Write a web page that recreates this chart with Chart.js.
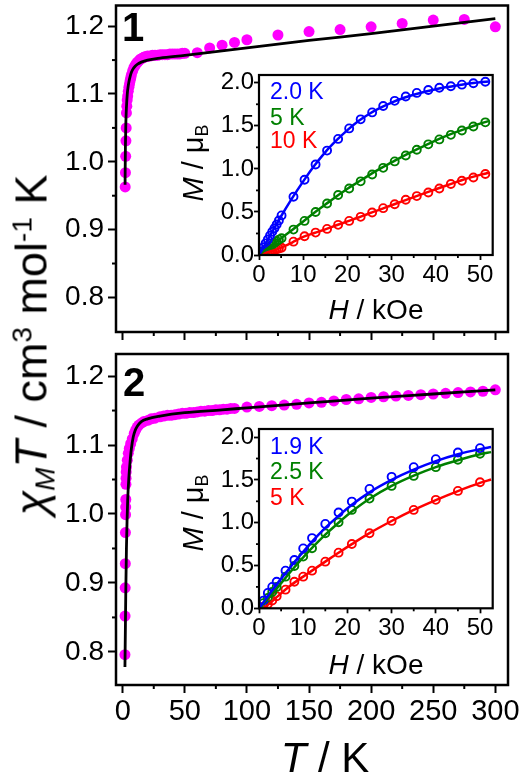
<!DOCTYPE html>
<html>
<head>
<meta charset="utf-8">
<script src="https://cdn.jsdelivr.net/npm/chart.js@4.4.1/dist/chart.umd.min.js"></script>
<style>
  html, body { margin: 0; padding: 0; background: #fff; }
  #fig { position: relative; width: 519px; height: 775px; overflow: hidden; font-family: "Liberation Sans", Arial, sans-serif; }
  #fig canvas { position: absolute; }
  .lbl { position: absolute; white-space: nowrap; line-height: 1; color: #000; }
  .c { transform: translate(-50%, -50%); }
  .l { transform: translateY(-50%); }
  .rot { transform: translate(-50%, -50%) rotate(-90deg); }
  .lbl sub, .lbl sup { font-size: 0.62em; position: relative; vertical-align: baseline; }
  .lbl sub { top: 0.3em; }
  .lbl sup { top: -0.55em; }
</style>
</head>
<body>
<div id="fig">
  <canvas id="main1" width="519" height="345" style="left:0;top:0"></canvas>
  <canvas id="main2" width="519" height="430" style="left:0;top:345px"></canvas>
  <canvas id="ins1" width="345" height="225" style="left:160px;top:65px"></canvas>
  <canvas id="ins2" width="345" height="225" style="left:160px;top:419px"></canvas>

  <div class="lbl" style="left:122px;top:7px;font-size:40px;font-weight:bold">1</div>
  <div class="lbl" style="left:123px;top:362px;font-size:40px;font-weight:bold">2</div>

  <div class="lbl rot" style="left:31px;top:345px;font-size:45px"><i>χ</i><sub><i>M</i></sub><i>T</i> / cm<sup>3</sup> mol<sup>-1</sup> K</div>
  <div class="lbl c" style="left:325px;top:758px;font-size:42px"><i>T</i> / K</div>

  <div class="lbl rot" style="left:193px;top:163px;font-size:29px"><i>M</i> / μ<sub>B</sub></div>
  <div class="lbl c" style="left:376px;top:310px;font-size:28px"><i>H</i> / kOe</div>
  <div class="lbl l" style="left:270px;top:91px;font-size:23px;color:#0000ff">2.0 K</div>
  <div class="lbl l" style="left:270px;top:117px;font-size:23px;color:#008000">5 K</div>
  <div class="lbl l" style="left:270px;top:140px;font-size:23px;color:#ff0000">10 K</div>

  <div class="lbl rot" style="left:193px;top:513px;font-size:29px"><i>M</i> / μ<sub>B</sub></div>
  <div class="lbl c" style="left:376px;top:665px;font-size:28px"><i>H</i> / kOe</div>
  <div class="lbl l" style="left:270px;top:446px;font-size:23px;color:#0000ff">1.9 K</div>
  <div class="lbl l" style="left:270px;top:471px;font-size:23px;color:#008000">2.5 K</div>
  <div class="lbl l" style="left:270px;top:497px;font-size:23px;color:#ff0000">5 K</div>
</div>

<script>
// ---- panel 1: chiM*T vs T (compound 1) ----
const T1 = [2.0, 2.2, 2.4, 2.6, 2.8, 3.0, 3.3, 3.6, 4.0, 4.5, 5, 5.5, 6, 6.5, 7, 8, 9, 10, 11, 12, 13, 14, 15, 16, 17, 18, 19, 20,
  22, 24, 26, 28, 30, 32, 34, 36, 38, 40, 42, 44, 46, 48, 50, 60, 70, 80, 90, 100, 125, 150, 175, 200, 225, 250, 275, 300];
const chiT1 = [0.963, 0.984, 1.008, 1.031, 1.050, 1.072, 1.082, 1.091, 1.097, 1.104, 1.110, 1.115, 1.120, 1.124, 1.128, 1.134, 1.139, 1.142,
  1.145, 1.147, 1.149, 1.151, 1.152, 1.153, 1.154, 1.155, 1.155, 1.156, 1.156, 1.157, 1.157, 1.157, 1.158, 1.158, 1.158, 1.158, 1.159,
  1.159, 1.159, 1.159, 1.159, 1.160, 1.160, 1.161, 1.168, 1.172, 1.176, 1.180, 1.187, 1.192, 1.195, 1.199, 1.204, 1.209, 1.210, 1.199];
const T1fit = [1.9, 2.0, 2.2, 2.5, 2.8, 3.2, 3.6, 4, 5, 6, 7, 8, 10, 12, 15, 20, 30, 50, 100, 150, 200, 250, 300];
const chiT1fit = [0.966, 0.99, 1.025, 1.055, 1.072, 1.087, 1.098, 1.106, 1.118, 1.126, 1.132, 1.136, 1.141, 1.144, 1.147, 1.150, 1.153,
  1.157, 1.168, 1.179, 1.189, 1.200, 1.211];

// ---- panel 2: chiM*T vs T (compound 2) ----
const T2 = [1.8, 1.9, 2.0, 2.1, 2.2, 2.3, 2.4, 2.5, 2.6, 2.7, 2.8, 3.0, 3.7, 4.5, 5.3, 6.4, 7.7, 9.3, 10.5, 11.7, 13, 15.3, 17, 20.6,
  23, 26, 30, 33, 36, 39, 42, 45, 48, 51, 54, 57, 60, 63, 66, 69, 72, 75, 78, 81, 84, 87, 90,
  100, 110, 120, 130, 140, 150, 160, 170, 180, 190, 200, 210, 220, 230, 240, 250, 260, 270, 280, 290, 300];
const chiT2 = [0.796, 0.852, 0.893, 0.928, 0.973, 0.999, 1.010, 1.021, 1.043, 1.052, 1.061, 1.068, 1.078, 1.088, 1.095, 1.102, 1.109,
  1.117, 1.122, 1.126, 1.129, 1.132, 1.134, 1.136, 1.138, 1.139, 1.141, 1.142, 1.143, 1.143, 1.144, 1.145, 1.146, 1.146, 1.147, 1.147,
  1.148, 1.149, 1.149, 1.150, 1.150, 1.151, 1.151, 1.152, 1.152, 1.153, 1.153,
  1.155, 1.156, 1.157, 1.158, 1.159, 1.161, 1.162, 1.164, 1.166, 1.167, 1.169, 1.170, 1.171, 1.172, 1.173, 1.174, 1.175, 1.176, 1.177,
  1.178, 1.180];
const T2fit = [1.8, 2.2, 2.5, 3.0, 3.5, 4.0, 5, 6, 7, 8.5, 10, 12, 15, 20, 30, 50, 80, 100, 150, 200, 250, 300];
const chiT2fit = [0.778, 0.841, 0.889, 0.950, 0.990, 1.020, 1.054, 1.077, 1.095, 1.112, 1.121, 1.128, 1.134, 1.138, 1.142, 1.147,
  1.151, 1.154, 1.161, 1.168, 1.174, 1.180];

// ---- inset 1: M vs H (compound 1) ----
const H1 = [0.5, 1.0, 1.5, 2.0, 2.5, 3.0, 3.5, 4.0, 4.5, 5.1, 7.8, 10.3, 12.8, 15.4, 17.9, 20.4, 23.0, 25.6, 28.1, 30.7, 33.2, 35.7,
  38.3, 40.8, 43.4, 45.9, 48.5, 51.2];
const M1_2K = [0.045, 0.09, 0.135, 0.18, 0.225, 0.27, 0.31, 0.355, 0.40, 0.46, 0.676, 0.874, 1.05, 1.212, 1.348, 1.47, 1.575, 1.656,
  1.73, 1.79, 1.84, 1.882, 1.915, 1.942, 1.96, 1.978, 1.995, 2.012];
const M1_5K = [0.02, 0.04, 0.06, 0.08, 0.10, 0.12, 0.14, 0.16, 0.178, 0.195, 0.295, 0.396, 0.50, 0.598, 0.696, 0.773, 0.855, 0.935,
  1.012, 1.087, 1.155, 1.222, 1.285, 1.342, 1.395, 1.445, 1.492, 1.54];
const M1_10K = [0.008, 0.016, 0.025, 0.033, 0.042, 0.05, 0.059, 0.067, 0.076, 0.085, 0.155, 0.218, 0.26, 0.303, 0.35, 0.396, 0.443,
  0.493, 0.544, 0.59, 0.641, 0.684, 0.726, 0.773, 0.824, 0.862, 0.90, 0.94];
const H1fit = [0, 2.5, 5, 7.5, 10, 12.5, 15, 17.5, 20, 22.5, 25, 27.5, 30, 32.5, 35, 37.5, 40, 42.5, 45, 47.5, 50, 52];
const M1fit_2K = [0, 0.225, 0.45, 0.66, 0.855, 1.035, 1.195, 1.33, 1.45, 1.555, 1.64, 1.71, 1.77, 1.82, 1.86, 1.895, 1.925, 1.95,
  1.97, 1.99, 2.005, 2.015];
const M1fit_5K = [0, 0.1, 0.195, 0.29, 0.39, 0.49, 0.585, 0.68, 0.77, 0.85, 0.93, 1.005, 1.075, 1.145, 1.21, 1.27, 1.33, 1.385,
  1.435, 1.48, 1.525, 1.555];
const M1fit_10K = [0, 0.04, 0.085, 0.145, 0.21, 0.255, 0.298, 0.345, 0.39, 0.435, 0.485, 0.53, 0.578, 0.625, 0.672, 0.718, 0.763,
  0.81, 0.853, 0.895, 0.93, 0.955];

// ---- inset 2: M vs H (compound 2) ----
const H2 = [1, 2, 3, 4, 6, 8, 10, 12, 15, 18, 21, 25, 30, 35, 40, 45, 50];
const M2_19K = [0.09, 0.18, 0.25, 0.31, 0.44, 0.565, 0.70, 0.82, 0.986, 1.12, 1.247, 1.395, 1.536, 1.649, 1.743, 1.82, 1.871];
const M2_25K = [0.06, 0.12, 0.19, 0.25, 0.37, 0.495, 0.604, 0.702, 0.877, 1.006, 1.15, 1.282, 1.43, 1.547, 1.649, 1.735, 1.805];
const M2_5K = [0.02, 0.05, 0.09, 0.14, 0.218, 0.311, 0.37, 0.44, 0.545, 0.65, 0.752, 0.877, 1.021, 1.15, 1.267, 1.372, 1.473];
const H2fit = [0, 2, 4, 6, 8, 10, 12, 15, 18, 21, 25, 30, 35, 40, 45, 50, 52.5];
const M2fit_19K = [0, 0.14, 0.28, 0.41, 0.54, 0.66, 0.78, 0.94, 1.08, 1.21, 1.355, 1.50, 1.62, 1.72, 1.80, 1.86, 1.885];
const M2fit_25K = [0, 0.11, 0.23, 0.355, 0.48, 0.595, 0.705, 0.86, 1.0, 1.13, 1.28, 1.43, 1.55, 1.65, 1.73, 1.80, 1.825];
const H2fit_5K = [1, 2, 4, 6, 8, 10, 12, 15, 18, 21, 25, 30, 35, 40, 45, 50, 52.5];
const M2fit_5K = [0, 0.04, 0.13, 0.22, 0.30, 0.37, 0.44, 0.545, 0.65, 0.75, 0.878, 1.02, 1.15, 1.265, 1.37, 1.465, 1.505];

// ---- ticks ----
const mainXTicks = [0, 50, 100, 150, 200, 250, 300];
const mainXMinor = [25, 75, 125, 175, 225, 275];
const mainYTicks = [0.8, 0.9, 1.0, 1.1, 1.2];
const mainYMinor = [0.85, 0.95, 1.05, 1.15];
const insXTicks = [0, 10, 20, 30, 40, 50];
const insXMinor = [5, 15, 25, 35, 45];
const insYTicks = [0, 0.5, 1.0, 1.5, 2.0];
const insYMinor = [0.25, 0.75, 1.25, 1.75];

const pts = (xs, ys) => xs.map((x, i) => ({ x: x, y: ys[i] }));

// frame round the plot area + short minor ticks
const axesBox = {
  id: 'axesBox',
  afterDatasetsDraw(chart, args, opts) {
    const ctx = chart.ctx, a = chart.chartArea;
    const sx = chart.scales.x, sy = chart.scales.y;
    ctx.save();
    ctx.strokeStyle = '#000';
    ctx.lineWidth = opts.tickWidth;
    opts.xMinor.forEach(v => {
      const px = sx.getPixelForValue(v);
      ctx.beginPath(); ctx.moveTo(px, a.bottom); ctx.lineTo(px, a.bottom + opts.minorLen); ctx.stroke();
    });
    opts.yMinor.forEach(v => {
      const py = sy.getPixelForValue(v);
      ctx.beginPath(); ctx.moveTo(a.left, py); ctx.lineTo(a.left - opts.minorLen, py); ctx.stroke();
    });
    ctx.lineWidth = opts.frame;
    ctx.strokeRect(a.left, a.top, a.right - a.left, a.bottom - a.top);
    ctx.restore();
  }
};

Chart.defaults.font.family = "'Liberation Sans', Arial, sans-serif";
Chart.defaults.color = '#000';

function makeChart(id, o) {
  return new Chart(document.getElementById(id), {
    type: 'scatter',
    data: { datasets: o.datasets },
    options: {
      responsive: false,
      animation: false,
      devicePixelRatio: 1,
      layout: { padding: { top: o.padTop, right: o.padRight, left: 0, bottom: 0 } },
      plugins: {
        legend: { display: false },
        tooltip: { enabled: false },
        axesBox: { xMinor: o.xMinor, yMinor: o.yMinor, minorLen: o.minorLen, tickWidth: o.tickWidth, frame: o.frame }
      },
      scales: {
        x: {
          type: 'linear', position: 'bottom', min: o.xMin, max: o.xMax,
          afterBuildTicks: s => { s.ticks = o.xTicks.map(v => ({ value: v })); },
          afterFit: s => { s.height = o.xHeight; s.paddingLeft = 0; s.paddingRight = 0; },
          ticks: { display: o.xLabels, autoSkip: false, maxRotation: 0, padding: o.xPad, color: '#000',
                   font: { size: o.xFont }, callback: v => String(v) },
          grid: { drawOnChartArea: false, drawTicks: true, tickLength: o.tickLen, tickWidth: o.tickWidth, tickColor: '#000' },
          border: { display: false }
        },
        y: {
          type: 'linear', position: 'left', min: o.yMin, max: o.yMax,
          afterBuildTicks: s => { s.ticks = o.yTicks.map(v => ({ value: v })); },
          afterFit: s => { s.width = o.yWidth; s.paddingTop = 0; s.paddingBottom = 0; },
          ticks: { autoSkip: false, padding: o.yPad, color: '#000', font: { size: o.yFont }, callback: v => v.toFixed(1) },
          grid: { drawOnChartArea: false, drawTicks: true, tickLength: o.tickLen, tickWidth: o.tickWidth, tickColor: '#000' },
          border: { display: false }
        }
      }
    },
    plugins: [axesBox]
  });
}

function fitLine(xs, ys, color, w) {
  return { data: pts(xs, ys), showLine: true, pointRadius: 0, borderColor: color, borderWidth: w,
           cubicInterpolationMode: 'monotone' };
}
function dots(xs, ys) {
  return { data: pts(xs, ys), pointRadius: 5.5, pointBackgroundColor: '#ff00ff', pointBorderWidth: 0 };
}
function rings(xs, ys, color) {
  return { data: pts(xs, ys), pointRadius: 4, pointBorderColor: color, pointBackgroundColor: 'rgba(0,0,0,0)',
           pointBorderWidth: 1.9 };
}

const mainOpts = {
  xMin: -5.4, xMax: 310.2, xTicks: mainXTicks, xMinor: mainXMinor, yTicks: mainYTicks, yMinor: mainYMinor,
  yWidth: 116, padRight: 11, tickLen: 8, minorLen: 4, tickWidth: 2, frame: 2.5,
  xFont: 29, yFont: 28, xPad: 2, yPad: 4
};
const insOpts = {
  xMin: 0, xMax: 52.87, xTicks: insXTicks, xMinor: insXMinor, yTicks: insYTicks, yMinor: insYMinor,
  yWidth: 99, padRight: 12.3, tickLen: 5, minorLen: 3, tickWidth: 1.8, frame: 2.2,
  xFont: 24, yFont: 24, xPad: 1, yPad: 0, xLabels: true, yMin: 0
};

makeChart('main1', Object.assign({}, mainOpts, {
  yMin: 0.749, yMax: 1.2305, padTop: 1, xHeight: 13, xLabels: false,
  datasets: [fitLine(T1fit, chiT1fit, '#000', 2.8), dots(T1, chiT1)]
}));

makeChart('main2', Object.assign({}, mainOpts, {
  yMin: 0.752, yMax: 1.232, padTop: 9, xHeight: 90, xLabels: true,
  datasets: [fitLine(T2fit, chiT2fit, '#000', 2.8), dots(T2, chiT2)]
}));

makeChart('ins1', Object.assign({}, insOpts, {
  yMax: 2.09, padTop: 10, xHeight: 35,
  datasets: [
    fitLine(H1fit, M1fit_2K, '#0000ff', 2.5), fitLine(H1fit, M1fit_5K, '#008000', 2.5), fitLine(H1fit, M1fit_10K, '#ff0000', 2.5),
    rings(H1, M1_2K, '#0000ff'), rings(H1, M1_5K, '#008000'), rings(H1, M1_10K, '#ff0000')
  ]
}));

makeChart('ins2', Object.assign({}, insOpts, {
  yMax: 2.095, padTop: 10, xHeight: 35.7,
  datasets: [
    fitLine(H2fit, M2fit_19K, '#0000ff', 2.5), fitLine(H2fit, M2fit_25K, '#008000', 2.5), fitLine(H2fit_5K, M2fit_5K, '#ff0000', 2.5),
    rings(H2, M2_19K, '#0000ff'), rings(H2, M2_25K, '#008000'), rings(H2, M2_5K, '#ff0000')
  ]
}));
</script>
</body>
</html>
